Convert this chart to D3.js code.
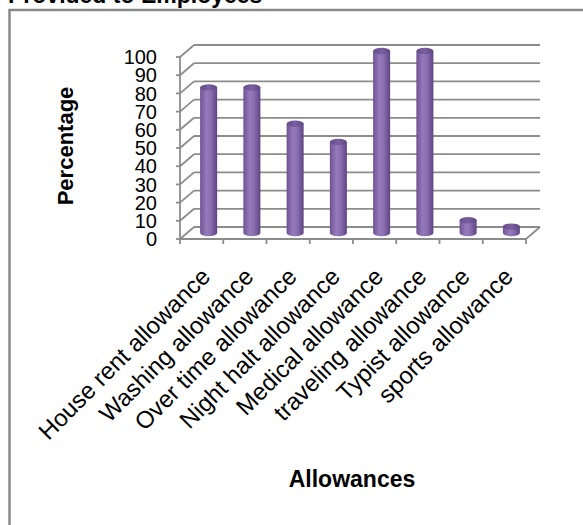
<!DOCTYPE html>
<html>
<head>
<meta charset="utf-8">
<script src="https://cdn.jsdelivr.net/npm/d3@7"></script>
<style>
  html, body { margin: 0; padding: 0; background: #ffffff; overflow: hidden; }
  svg { display: block; }
  text { font-family: "Liberation Sans", Arial, Helvetica, sans-serif; fill: #000; }
</style>
</head>
<body>
<svg id="chart" width="583" height="525"></svg>
<script>
// Allowances provided to employees (percentage of respondents)
const categories = [
  "House rent allowance",
  "Washing allowance",
  "Over time allowance",
  "Night halt allowance",
  "Medical allowance",
  "traveling allowance",
  "Typist allowance",
  "sports allowance"
];
const percentages = [80, 80, 60, 50, 100, 100, 7, 3.5];
const yTickValues = [0, 10, 20, 30, 40, 50, 60, 70, 80, 90, 100];

const chartTitle = "Provided to Employees";
const yTitle = "Percentage";
const xTitle = "Allowances";

const svg = d3.select("#chart");

// 3-D box geometry: front plane plus a depth offset towards the back wall
const depth = { dx: 14, dy: -12 };
const x = d3.scaleBand().domain(categories).range([180, 526]);
const y = d3.scaleLinear().domain([0, 100]).range([239, 57]);
const gridColor = "#8c8c8c";

const defs = svg.append("defs");
const bodyGrad = defs.append("linearGradient").attr("id", "cylBody")
  .attr("x1", "0%").attr("x2", "100%").attr("y1", "0%").attr("y2", "0%");
[["0%", "#6a4f8f"], ["12%", "#7c60a2"], ["38%", "#957bbb"], ["62%", "#8a6fb0"], ["88%", "#6d5293"], ["100%", "#5b4380"]]
  .forEach(([o, c]) => bodyGrad.append("stop").attr("offset", o).attr("stop-color", c));
const capGrad = defs.append("linearGradient").attr("id", "cylCap")
  .attr("x1", "0%").attr("x2", "100%").attr("y1", "0%").attr("y2", "0%");
[["0%", "#654b8a"], ["50%", "#7a5fa1"], ["100%", "#5e4682"]]
  .forEach(([o, c]) => capGrad.append("stop").attr("offset", o).attr("stop-color", c));

// Chart area border
svg.append("rect")
  .attr("x", 9.5).attr("y", 10).attr("width", 700).attr("height", 700)
  .attr("fill", "none").attr("stroke", "#8a8a8a").attr("stroke-width", 2.5);

// Title
svg.append("text")
  .attr("x", 8).attr("y", 3)
  .attr("font-size", 23).attr("font-weight", "bold")
  .text(chartTitle);

const x0 = x.range()[0], x1 = x.range()[1];
const grid = svg.append("g").attr("stroke", gridColor).attr("stroke-width", 1.8).attr("fill", "none");

// Back-wall gridlines and side-wall diagonals
yTickValues.forEach(v => {
  grid.append("line")
    .attr("x1", x0 + depth.dx).attr("x2", x1 + depth.dx)
    .attr("y1", y(v) + depth.dy).attr("y2", y(v) + depth.dy);
  grid.append("line")
    .attr("x1", x0).attr("y1", y(v))
    .attr("x2", x0 + depth.dx).attr("y2", y(v) + depth.dy);
});

// Floor front edge and right edge
grid.append("line").attr("x1", x0).attr("x2", x1).attr("y1", y(0)).attr("y2", y(0));
grid.append("line").attr("x1", x1).attr("y1", y(0)).attr("x2", x1 + depth.dx).attr("y2", y(0) + depth.dy);

// Value axis
grid.append("line").attr("x1", x0).attr("x2", x0).attr("y1", y(0)).attr("y2", y(100));
yTickValues.forEach(v => {
  grid.append("line").attr("x1", x0 - 4).attr("x2", x0).attr("y1", y(v)).attr("y2", y(v));
});

// Category axis ticks
const boundaries = categories.map(c => x(c)).concat([x1]);
boundaries.forEach(bx => {
  grid.append("line").attr("x1", bx).attr("x2", bx).attr("y1", y(0)).attr("y2", y(0) + 5);
});

// Value labels
svg.append("g").selectAll("text").data(yTickValues).join("text")
  .attr("x", 157).attr("y", d => y(d))
  .attr("dy", "0.36em")
  .attr("text-anchor", "end")
  .attr("font-size", 20)
  .text(d => d);

// Cylinders, standing at mid depth
const rx = 8.5, ry = 3.2;
const bars = svg.append("g");
categories.forEach((c, i) => {
  const cx = x(c) + x.bandwidth() / 2 + depth.dx / 2;
  const yBase = y(0) + depth.dy / 2;
  const yTop = y(percentages[i]) + depth.dy / 2;
  bars.append("path")
    .attr("d", `M${cx - rx},${yTop} L${cx - rx},${yBase} A${rx},${ry} 0 0 0 ${cx + rx},${yBase} L${cx + rx},${yTop} Z`)
    .attr("fill", "url(#cylBody)");
  bars.append("ellipse")
    .attr("cx", cx).attr("cy", yTop).attr("rx", rx).attr("ry", ry)
    .attr("fill", "url(#cylCap)");
});

// Category labels, rotated
svg.append("g").selectAll("text").data(categories).join("text")
  .attr("transform", d => `translate(${x(d) + x.bandwidth() / 2 + 10},${278}) rotate(-45)`)
  .attr("text-anchor", "end")
  .attr("font-size", 24)
  .text(d => d);

// Axis titles
svg.append("text")
  .attr("transform", "translate(73,146) rotate(-90)")
  .attr("text-anchor", "middle")
  .attr("font-size", 22).attr("font-weight", "bold")
  .text(yTitle);

svg.append("text")
  .attr("x", 352).attr("y", 487)
  .attr("text-anchor", "middle")
  .attr("font-size", 23).attr("font-weight", "bold")
  .text(xTitle);
</script>
</body>
</html>
